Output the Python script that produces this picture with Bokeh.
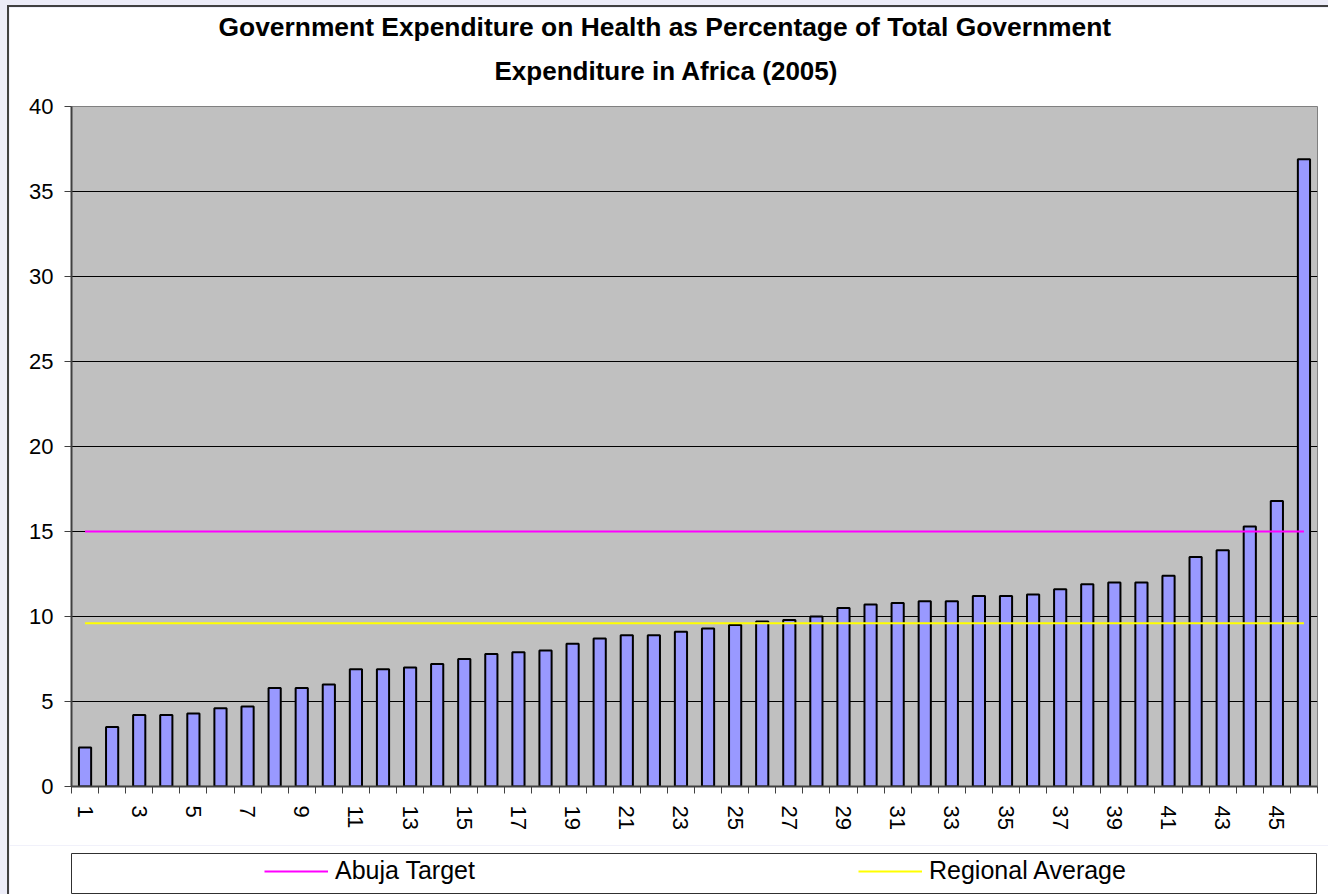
from bokeh.plotting import figure
from bokeh.models import Range1d, FixedTicker, Legend, LegendItem, Title
from bokeh.layouts import column
from bokeh.embed import file_html
from bokeh.resources import INLINE

# ---- data ----
categories = list(range(1, 47))
health_share = [2.3, 3.5, 4.2, 4.2, 4.3, 4.6, 4.7, 5.8, 5.8, 6.0,
                6.9, 6.9, 7.0, 7.2, 7.5, 7.8, 7.9, 8.0, 8.4, 8.7,
                8.9, 8.9, 9.1, 9.3, 9.5, 9.7, 9.8, 10.0, 10.5, 10.7,
                10.8, 10.9, 10.9, 11.2, 11.2, 11.3, 11.6, 11.9, 12.0, 12.0,
                12.4, 13.5, 13.9, 15.3, 16.8, 36.9]
abuja_target = 15.0
regional_average = 9.6
y_ticks = [0, 5, 10, 15, 20, 25, 30, 35, 40]
x_tick_labels = [1, 3, 5, 7, 9, 11, 13, 15, 17, 19, 21, 23, 25, 27, 29, 31,
                 33, 35, 37, 39, 41, 43, 45]
title_lines = ["Government Expenditure on Health as Percentage of Total Government",
               "Expenditure in Africa (2005)"]
series_names = ["Abuja Target", "Regional Average"]
series_colors = ["#FF00FF", "#FFFF00"]

FONT = "Liberation Sans"
EDGE = {"border-left": "2px solid #404040"}

p = figure(frame_width=1244, frame_height=678,
           min_border_left=58, min_border_right=17,
           min_border_top=99, min_border_bottom=61,
           x_range=Range1d(0.5, 46.5), y_range=Range1d(0, 40),
           output_backend="svg", toolbar_location=None,
           background_fill_color="#C0C0C0", border_fill_color="white",
           outline_line_color="#808080", outline_line_width=1,
           margin=(5, 0, 0, 7),
           styles={"border-left": "2px solid #404040",
                   "border-top": "2px solid #404040"})

# bars
p.vbar(x=categories, top=health_share, width=0.45, bottom=0,
       fill_color="#9999FF", line_color="black", line_width=2)

# reference lines
p.line(x=[categories[0], categories[-1]], y=[abuja_target] * 2,
       line_color=series_colors[0], line_width=2)
p.line(x=[categories[0], categories[-1]], y=[regional_average] * 2,
       line_color=series_colors[1], line_width=2)

# axes
p.xgrid.visible = False
p.ygrid.grid_line_color = "black"
p.ygrid.grid_line_width = 1
p.yaxis.ticker = FixedTicker(ticks=y_ticks)
p.yaxis.minor_tick_line_color = None
p.yaxis.major_tick_out = 7
p.yaxis.major_tick_in = 0
p.yaxis.major_tick_line_color = "#404040"
p.yaxis.axis_line_color = "#404040"
p.yaxis.axis_line_width = 2
p.yaxis.major_label_text_font = FONT
p.yaxis.major_label_text_font_size = "22px"
p.yaxis.major_label_text_color = "black"
p.yaxis.major_label_standoff = 11

boundaries = [c - 0.5 for c in categories] + [categories[-1] + 0.5]
p.xaxis.ticker = FixedTicker(ticks=x_tick_labels, minor_ticks=boundaries)
p.xaxis.major_tick_out = 0
p.xaxis.major_tick_in = 0
p.xaxis.minor_tick_out = 7
p.xaxis.minor_tick_in = 0
p.xaxis.minor_tick_line_color = "#404040"
p.xaxis.axis_line_color = "#404040"
p.xaxis.axis_line_width = 2
p.xaxis.major_label_orientation = -1.5708
p.xaxis.major_label_text_font = FONT
p.xaxis.major_label_text_font_size = "22px"
p.xaxis.major_label_text_color = "black"
p.xaxis.major_label_standoff = 12

# titles (closest to frame first)
p.add_layout(Title(text=title_lines[1], align="left", offset=423,
                   text_font=FONT, text_font_size="26px", text_font_style="bold",
                   text_color="black", standoff=41), "above")
p.add_layout(Title(text=title_lines[0], align="left", offset=147,
                   text_font=FONT, text_font_size="26.4px", text_font_style="bold",
                   text_color="black", standoff=-17), "above")

# legend strip (separate panel below the chart, its frame is the legend box)
q = figure(frame_width=1243, frame_height=40,
           min_border_left=62, min_border_right=14,
           min_border_top=8, min_border_bottom=1,
           x_range=Range1d(-1, 0), y_range=Range1d(-1, 0),
           x_axis_location=None, y_axis_location=None,
           output_backend="svg", toolbar_location=None,
           background_fill_color="white", border_fill_color="white",
           outline_line_color="#303030", outline_line_width=1,
           margin=(0, 0, 0, 7), styles=EDGE)
q.xgrid.visible = False
q.ygrid.visible = False
# same series as in the chart; they fall outside this strip's ranges and only feed the legend
r1 = q.line(x=[categories[0], categories[-1]], y=[abuja_target] * 2,
            line_color=series_colors[0], line_width=2)
r2 = q.line(x=[categories[0], categories[-1]], y=[regional_average] * 2,
            line_color=series_colors[1], line_width=2)
legend = Legend(items=[LegendItem(label=series_names[0], renderers=[r1]),
                       LegendItem(label=series_names[1], renderers=[r2])],
                orientation="horizontal", location=(193, 8),
                border_line_alpha=0, background_fill_alpha=0,
                padding=0, margin=0, spacing=23,
                glyph_width=64, glyph_height=24, label_width=500, label_height=24,
                label_standoff=7, label_text_font=FONT, label_text_font_size="25px",
                label_text_color="black")
q.add_layout(legend, "center")

page = column(p, q, spacing=0, styles={"background-color": "#ECECF8"},
              width=1328, height=894)

open("out.html", "w").write(file_html(page, INLINE))
